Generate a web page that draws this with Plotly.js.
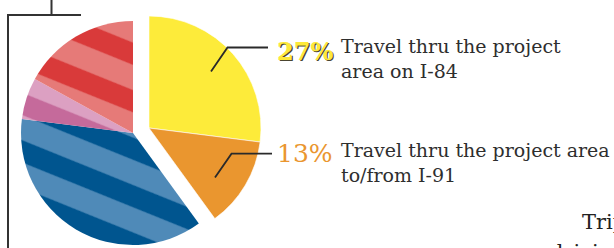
<!DOCTYPE html>
<html>
<head>
<meta charset="utf-8">
<script src="https://cdn.plot.ly/plotly-3.0.1.min.js"></script>
<style>
  html, body { margin: 0; padding: 0; background: #fff; overflow: hidden; }
  #chart { width: 614px; height: 248px; }
</style>
</head>
<body>
<div id="chart"></div>
<script>
// ---- data ----
const categories = [
  "Travel thru the project area on I-84",
  "Travel thru the project area to/from I-91",
  "Other trips (blue)",
  "Other trips (pink)",
  "Other trips (red)"
];
const shares = [27, 13, 37, 6, 17];
const pctLabels = ["27%", "13%"];
const descLabels = [
  "Travel thru the project<br>area on I-84",
  "Travel thru the project area<br>to/from I-91"
];
const sideText = ["Trips", "driving in"];

// ---- styles ----
const baseColors = ["#FDEB3A", "#EA962F", "#4F8AB8", "#DCA0C2", "#E67A78"];
const stripeColors = ["#FDEB3A", "#EA962F", "#00558F", "#C56A9B", "#D93A3A"];
const clear = "rgba(0,0,0,0)";
const W = 614, H = 248;
const px = x => x / W;
const py = y => 1 - y / H;

// main pie (unpulled part)
const traceRest = {
  type: "pie", values: shares, labels: categories, sort: false,
  direction: "clockwise", rotation: 0, textinfo: "none", hoverinfo: "none",
  showlegend: false,
  domain: { x: [px(21), px(245)], y: [1 - 245 / H, 1 - 21 / H] },
  marker: {
    colors: baseColors.map((c, i) => i < 2 ? clear : c),
    line: { width: 0 },
    pattern: {
      shape: ["", "", "\\", "\\", "\\"],
      bgcolor: baseColors.map((c, i) => i < 2 ? clear : c),
      fgcolor: stripeColors.map((c, i) => i < 2 ? clear : c),
      size: 44, solidity: 0.47, fillmode: "replace"
    }
  }
};
// pulled-out group (yellow + orange)
const tracePulled = {
  type: "pie", values: shares, labels: categories, sort: false,
  direction: "clockwise", rotation: 0, textinfo: "none", hoverinfo: "none",
  showlegend: false,
  domain: { x: [px(37), px(261)], y: [1 - 240 / H, 1 - 16 / H] },
  marker: {
    colors: baseColors.map((c, i) => i < 2 ? c : clear),
    line: { width: [0.6, 0.6, 0, 0, 0], color: "#ffffff" }
  }
};

const ink = "#2e2e2e";
const serif = "DejaVu Serif";
const lineStyle = { color: "#2a2a2a", width: 1.8 };

const layout = {
  width: W, height: H,
  margin: { l: 0, r: 0, t: 0, b: 0 },
  paper_bgcolor: "#ffffff",
  showlegend: false,
  shapes: [
    // bracket
    { type: "path", xref: "paper", yref: "paper",
      path: `M${px(51.5)},${py(0)} L${px(51.5)},${py(15)} M${px(7)},${py(15)} L${px(81)},${py(15)} M${px(8)},${py(15)} L${px(8)},${py(248)}`,
      line: { color: "#333", width: 2 } },
    // leaders
    { type: "path", xref: "paper", yref: "paper",
      path: `M${px(211)},${py(71.5)} L${px(227.5)},${py(47.5)} L${px(268)},${py(47.5)}`,
      line: lineStyle },
    { type: "path", xref: "paper", yref: "paper",
      path: `M${px(215)},${py(177.5)} L${px(231.5)},${py(153.7)} L${px(272)},${py(153.7)}`,
      line: lineStyle }
  ],
  annotations: [
    { xref: "paper", yref: "paper", x: px(275), y: py(51), xanchor: "left", yanchor: "middle",
      showarrow: false, text: pctLabels[0],
      font: { family: serif, size: 24, color: "#FDE93A", weight: 700, shadow: "1.2px 1.2px 0px #4a4530" } },
    { xref: "paper", yref: "paper", x: px(339), y: py(33), xanchor: "left", yanchor: "top",
      showarrow: false, align: "left", text: descLabels[0],
      font: { family: serif, size: 19, color: ink } },
    { xref: "paper", yref: "paper", x: px(275), y: py(153), xanchor: "left", yanchor: "middle",
      showarrow: false, text: pctLabels[1],
      font: { family: serif, size: 25, color: "#EA962F" } },
    { xref: "paper", yref: "paper", x: px(339), y: py(137), xanchor: "left", yanchor: "top",
      showarrow: false, align: "left", text: descLabels[1],
      font: { family: serif, size: 19, color: ink } },
    { xref: "paper", yref: "paper", x: px(580), y: py(208), xanchor: "left", yanchor: "top",
      showarrow: false, align: "left", text: sideText[0],
      font: { family: serif, size: 21, color: "#222" } },
    { xref: "paper", yref: "paper", x: px(548), y: py(238), xanchor: "left", yanchor: "top",
      showarrow: false, align: "left", text: sideText[1],
      font: { family: serif, size: 21, color: "#222" } }
  ]
};

Plotly.newPlot("chart", [traceRest, tracePulled], layout, { staticPlot: true, displayModeBar: false })
  .then(gd => {
    gd.querySelectorAll("pattern").forEach(p => p.setAttribute("patternTransform", "rotate(-23)"));
  });
</script>
</body>
</html>
